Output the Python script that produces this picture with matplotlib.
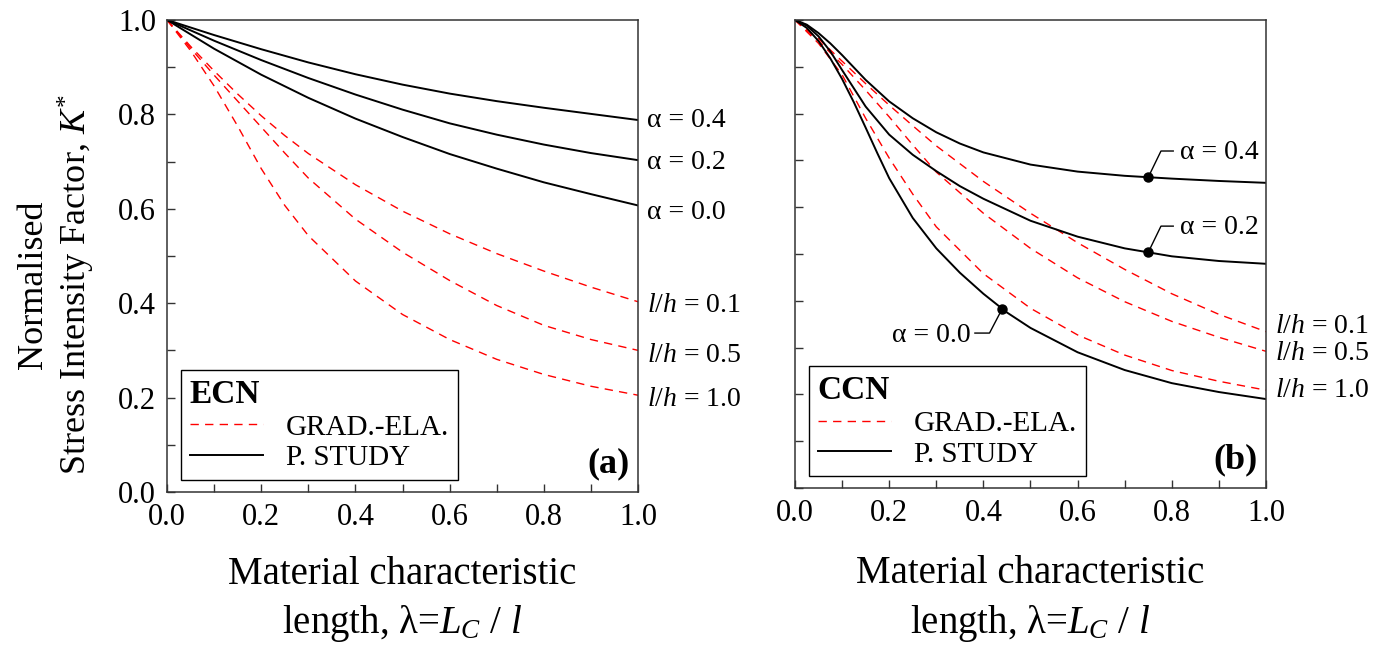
import numpy as np
import matplotlib
matplotlib.use("Agg")
import matplotlib.pyplot as plt
from matplotlib.ticker import MultipleLocator

plt.rcParams["font.family"] = ["Liberation Serif", "DejaVu Serif"]
plt.rcParams["mathtext.fontset"] = "custom"
plt.rcParams["mathtext.rm"] = "Liberation Serif"
plt.rcParams["mathtext.it"] = "Liberation Serif:italic"
plt.rcParams["mathtext.bf"] = "Liberation Serif:bold"

# ---- (a) ECN ----
ecn_lam = [0.0, 0.1, 0.2, 0.3, 0.4, 0.5, 0.6, 0.7, 0.8, 0.9, 1.0]
ecn_a04 = [1.0, 0.968, 0.938, 0.910, 0.885, 0.863, 0.844, 0.828, 0.814, 0.801, 0.788]
ecn_a02 = [1.0, 0.956, 0.915, 0.877, 0.842, 0.810, 0.781, 0.757, 0.736, 0.718, 0.703]
ecn_a00 = [1.0, 0.939, 0.884, 0.835, 0.791, 0.752, 0.716, 0.685, 0.656, 0.631, 0.607]

ecn_lam_g = [0.0, 0.05, 0.1, 0.15, 0.2, 0.25, 0.3, 0.4, 0.5, 0.6, 0.7, 0.8, 0.9, 1.0]
ecn_g01 = [1.0, 0.944, 0.892, 0.843, 0.797, 0.755, 0.717, 0.651, 0.595, 0.547, 0.505, 0.468, 0.434, 0.403]
ecn_g05 = [1.0, 0.940, 0.883, 0.828, 0.773, 0.718, 0.665, 0.578, 0.508, 0.448, 0.395, 0.353, 0.323, 0.300]
ecn_g10 = [1.0, 0.935, 0.860, 0.775, 0.685, 0.607, 0.543, 0.447, 0.376, 0.323, 0.281, 0.249, 0.224, 0.205]

# ---- (b) CCN ----
ccn_lam = [0.0, 0.025, 0.05, 0.075, 0.1, 0.15, 0.2, 0.25, 0.3, 0.35, 0.4, 0.5, 0.6, 0.7, 0.8, 0.9, 1.0]
ccn_a04 = [1.0, 0.990, 0.972, 0.950, 0.925, 0.872, 0.826, 0.790, 0.760, 0.736, 0.717, 0.691, 0.676, 0.667, 0.661, 0.656, 0.652]
ccn_a02 = [1.0, 0.988, 0.965, 0.933, 0.893, 0.815, 0.755, 0.712, 0.677, 0.645, 0.618, 0.571, 0.537, 0.512, 0.495, 0.485, 0.479]

ccn_lam_0 = [0.0, 0.025, 0.05, 0.075, 0.1, 0.125, 0.15, 0.175, 0.2, 0.25, 0.3, 0.35, 0.4, 0.45, 0.5, 0.6, 0.7, 0.8, 0.9, 1.0]
ccn_a00 = [1.0, 0.983, 0.955, 0.918, 0.874, 0.824, 0.770, 0.715, 0.662, 0.577, 0.512, 0.460, 0.415, 0.375, 0.342, 0.290, 0.252, 0.224, 0.205, 0.190]

ccn_lam_g = [0.0, 0.05, 0.1, 0.15, 0.2, 0.25, 0.3, 0.4, 0.5, 0.6, 0.7, 0.8, 0.9, 1.0]
ccn_g01 = [1.0, 0.960, 0.912, 0.864, 0.818, 0.774, 0.731, 0.655, 0.587, 0.524, 0.467, 0.415, 0.371, 0.334]
ccn_g05 = [1.0, 0.955, 0.905, 0.850, 0.793, 0.733, 0.675, 0.587, 0.512, 0.449, 0.398, 0.356, 0.322, 0.292]
ccn_g10 = [1.0, 0.950, 0.883, 0.790, 0.705, 0.628, 0.558, 0.458, 0.384, 0.327, 0.284, 0.251, 0.228, 0.209]

alpha_text = ["α = 0.4", "α = 0.2", "α = 0.0"]
lh_text = [r"$l/h$ = 0.1", r"$l/h$ = 0.5", r"$l/h$ = 1.0"]
marker_lam = [0.75, 0.75, 0.44]

fig = plt.figure(figsize=(13.92, 6.46), dpi=100)
ax1 = fig.add_axes([0.1200, 0.2384, 0.3384, 0.7307])
ax2 = fig.add_axes([0.5711, 0.2446, 0.3384, 0.7245])

red = dict(color="red", lw=1.0, dashes=(6, 4.5))
black = dict(color="black", lw=1.4)

# panel (a)
for i, g in enumerate([ecn_g01, ecn_g05, ecn_g10]):
    ax1.plot(ecn_lam_g, g, label="GRAD.-ELA." if i == 0 else None, **red)
for i, s in enumerate([ecn_a04, ecn_a02, ecn_a00]):
    ax1.plot(ecn_lam, s, label="P. STUDY" if i == 0 else None, **black)

a_off = [0.0, -0.004, -0.015]
for txt, s, d in zip(alpha_text, [ecn_a04, ecn_a02, ecn_a00], a_off):
    ax1.text(1.019, s[-1] + d, txt, fontsize=20, va="center", ha="left", clip_on=False)
lh_off = [-0.007, -0.011, -0.008]
for txt, g, d in zip(lh_text, [ecn_g01, ecn_g05, ecn_g10], lh_off):
    ax1.text(1.019, g[-1] + d, txt, fontsize=20, va="center", ha="left", clip_on=False)

# panel (b)
for i, g in enumerate([ccn_g01, ccn_g05, ccn_g10]):
    ax2.plot(ccn_lam_g, g, label="GRAD.-ELA." if i == 0 else None, **red)
ax2.plot(ccn_lam, ccn_a04, label="P. STUDY", **black)
ax2.plot(ccn_lam, ccn_a02, **black)
ax2.plot(ccn_lam_0, ccn_a00, **black)

# dots on the solid curves with short leader lines to their labels
curves_b = [(ccn_lam, ccn_a04), (ccn_lam, ccn_a02), (ccn_lam_0, ccn_a00)]
for k, (txt, (lx, ly), xm) in enumerate(zip(alpha_text, curves_b, marker_lam)):
    ym = np.interp(xm, lx, ly)
    ax2.plot(xm, ym, "o", color="black", ms=6.5)
    if k < 2:
        ax2.plot([xm, xm + 0.027, xm + 0.053], [ym, ym + 0.056, ym + 0.056], color="black", lw=1.0)
        ax2.text(xm + 0.068, ym + 0.052, txt, fontsize=20, va="center", ha="left")
    else:
        ax2.plot([xm, xm - 0.027, xm - 0.058], [ym, ym - 0.052, ym - 0.052], color="black", lw=1.0)
        ax2.text(xm - 0.068, ym - 0.057, txt, fontsize=20, va="center", ha="right")

lh_off_b = [0.010, -0.004, 0.0]
for txt, g, d in zip(lh_text, [ccn_g01, ccn_g05, ccn_g10], lh_off_b):
    ax2.text(1.019, g[-1] + d, txt, fontsize=20, va="center", ha="left", clip_on=False)

for ax, name, tag in [(ax1, "ECN", "(a)"), (ax2, "CCN", "(b)")]:
    ax.set_xlim(0, 1)
    ax.set_ylim(0, 1)
    ax.xaxis.set_major_locator(MultipleLocator(0.2))
    ax.xaxis.set_minor_locator(MultipleLocator(0.1))
    ax.yaxis.set_major_locator(MultipleLocator(0.2))
    ax.yaxis.set_minor_locator(MultipleLocator(0.1))
    ax.xaxis.set_major_formatter(lambda v, p: f"{v:.1f}")
    ax.yaxis.set_major_formatter(lambda v, p: f"{v:.1f}")
    ax.tick_params(which="both", direction="in", length=6, width=1.0,
                   top=False, right=False, labelsize=22, pad=8, colors="#333333",
                   labelcolor="black")
    for sp in ax.spines.values():
        sp.set_color("#333333")
        sp.set_linewidth(1.1)
    ax.set_xlabel("Material characteristic\nlength, λ=$L_C$ / $l$", fontsize=28,
                  linespacing=1.35)
    leg = ax.legend(loc="lower left", bbox_to_anchor=(0.03, 0.025), borderaxespad=0,
                    title=name, title_fontproperties={"weight": "bold", "size": 24},
                    alignment="left", fontsize=21, frameon=True, fancybox=False,
                    edgecolor="black", framealpha=1, handlelength=2.5,
                    handletextpad=0.8, borderpad=0.3, labelspacing=0.15)
    leg.get_frame().set_linewidth(1.0)
    ax.text(0.983, 0.025, tag, transform=ax.transAxes, ha="right", va="bottom",
            fontsize=26, fontweight="bold")

ax1.xaxis.set_label_coords(0.5, -0.135)
ax2.xaxis.set_label_coords(0.5, -0.144)
ax2.tick_params(labelleft=False)
ax1.set_ylabel("Normalised\nStress Intensity Factor, $K^{*}$", fontsize=26)
ax1.yaxis.set_label_coords(-0.149, 0.44)

fig.savefig("out.png", dpi=100)
